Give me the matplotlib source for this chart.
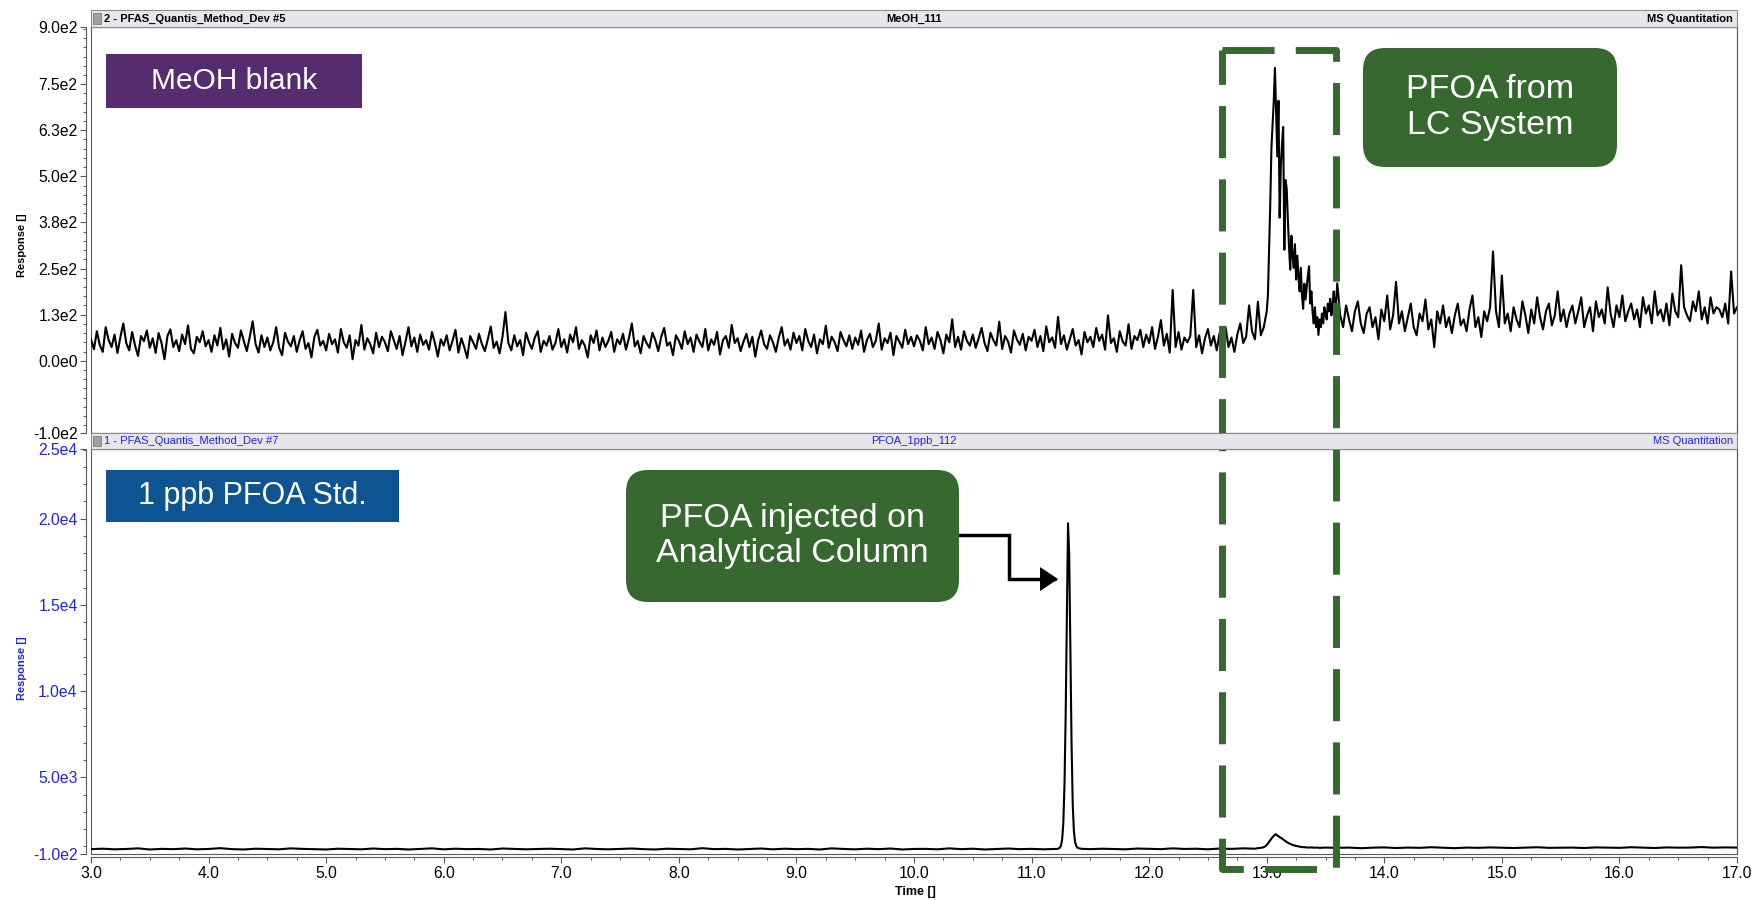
import matplotlib
matplotlib.use("Agg")
import matplotlib.pyplot as plt
import numpy as np
from matplotlib.patches import Rectangle, FancyBboxPatch, FancyArrowPatch
from matplotlib.path import Path
from matplotlib.transforms import blended_transform_factory
from matplotlib.ticker import FixedLocator, MultipleLocator, FormatStrFormatter

plt.rcParams['font.family'] = ['Liberation Sans', 'DejaVu Sans']

# ---------------- data ----------------
# MeOH blank trace (top), three pieces: baseline, LC-system peak, tail
blank_t0, blank_dt = 3.0, 0.025
blank_resp = [
    58, 31, 80, 42, 24, 91, 56, 37, 71, 21, 64, 101, 48, 28, 78, 41, 13, 67, 53, 82,
    35, 61, 21, 75, 48, 4, 67, 85, 37, 56, 26, 71, 45, 96, 32, 20, 65, 50, 80, 39,
    56, 24, 69, 41, 89, 31, 58, 11, 73, 48, 35, 82, 53, 26, 64, 107, 45, 22, 69, 37,
    63, 28, 50, 91, 35, 15, 76, 52, 39, 67, 24, 56, 80, 32, 48, 9, 65, 84, 41, 54,
    28, 73, 45, 58, 22, 86, 50, 35, 69, 4, 56, 41, 97, 30, 61, 45, 20, 76, 37, 65,
    50, 26, 80, 56, 32, 67, 15, 52, 91, 39, 63, 24, 71, 43, 56, 30, 78, 48, 11, 58,
    41, 69, 28, 54, 84, 22, 61, 37, 7, 67, 50, 32, 73, 45, 26, 58, 93, 35, 52, 20,
    65, 132, 48, 28, 69, 39, 56, 15, 76, 50, 32, 63, 80, 24, 54, 41, 67, 30, 48, 86,
    37, 58, 22, 71, 50, 91, 32, 56, 41, 9, 69, 48, 82, 28, 63, 37, 54, 78, 24, 58,
    45, 73, 30, 61, 101, 39, 54, 20, 67, 48, 35, 76, 56, 26, 65, 89, 41, 50, 15, 69,
    54, 32, 80, 45, 63, 24, 71, 52, 37, 86, 28, 58, 43, 78, 17, 56, 67, 35, 97, 48,
    61, 26, 52, 73, 37, 65, 11, 56, 82, 45, 32, 69, 50, 24, 63, 91, 41, 58, 30, 76,
    48, 67, 28, 86, 54, 37, 71, 20, 58, 45, 95, 35, 65, 50, 26, 78, 56, 39, 69, 32,
    63, 43, 82, 24, 56, 73, 37, 54, 101, 30, 61, 48, 76, 15, 67, 52, 35, 84, 45, 65,
    39, 69, 54, 28, 91, 45, 63, 32, 78, 56, 20, 71, 50, 112, 37, 65, 30, 80, 54, 41,
    71, 35, 61, 89, 48, 26, 76, 56, 41, 106, 32, 67, 52, 22, 82, 58, 43, 73, 28, 65,
    54, 84, 37, 67, 26, 93, 50, 63, 35, 119, 45, 69, 30, 58, 86, 41, 56, 17, 78, 50,
    65, 37, 89, 54, 71, 30, 123, 48, 61, 24, 80, 52, 41, 99, 32, 67, 56, 84, 37, 71,
    48, 91, 32, 65, 110, 41, 73, 22, 192, 37, 78, 30, 63, 50, 67, 192, 37, 69, 20, 61,
    86, 41, 67, 28, 76, 56, 91, 37, 63, 24, 71, 101, 48, 65, 150, 80, 58, 160, 69, 91,
]
lcpeak_t0, lcpeak_dt = 13.0, 0.01
lcpeak_resp = [
    134, 176, 296, 423, 576, 640, 705, 794, 673, 554,
    705, 388, 528, 587, 634, 301, 490, 467, 382, 306,
    247, 339, 285, 252, 316, 220, 285, 229, 188, 252,
    177, 141, 209, 166, 199, 231, 256, 155, 188, 131,
    101, 145, 91, 118, 70, 112, 91, 128, 101, 145,
    131, 112, 155, 134, 168, 123, 150, 188, 134, 161,
]
tail_t0, tail_dt = 13.6, 0.025
tail_resp = [
    210, 123, 91, 150, 112, 80, 134, 161, 101, 75, 128, 145, 91, 118, 58, 139, 107, 177, 85, 123,
    214, 101, 134, 80, 118, 155, 91, 69, 128, 107, 166, 85, 112, 37, 134, 101, 150, 91, 118, 75,
    123, 155, 96, 112, 80, 139, 177, 91, 118, 64, 134, 107, 145, 296, 134, 91, 231, 101, 128, 80,
    145, 112, 91, 161, 123, 75, 139, 101, 172, 118, 85, 134, 155, 96, 123, 188, 107, 139, 91, 128,
    150, 101, 134, 172, 91, 123, 145, 80, 161, 118, 139, 101, 199, 128, 91, 150, 118, 177, 107, 134,
    155, 112, 139, 91, 172, 128, 150, 101, 188, 123, 139, 107, 155, 96, 182, 134, 118, 259, 145, 123,
    107, 161, 134, 188, 112, 145, 101, 172, 128, 145, 139, 118, 155, 101, 242, 128, 145,
]

# 1 ppb PFOA standard trace (bottom)
std_base1_t0, std_base1_dt = 3.0, 0.1
std_base1 = [
    835, 860, 825, 845, 880, 815, 850, 835, 870, 825, 845, 890, 835, 815, 860, 845, 825, 880, 850, 835,
    815, 860, 845, 825, 870, 835, 850, 815, 845, 880, 825, 860, 835, 845, 815, 870, 850, 825, 845, 860,
    835, 815, 880, 845, 825, 850, 870, 835, 815, 860, 845, 825, 890, 835, 850, 815, 845, 870, 825, 860,
    835, 850, 815, 880, 845, 825, 860, 835, 870, 815, 845, 850, 825, 880, 835, 860, 815, 845, 870, 835,
    850, 825, 845,
]
std_peak_t0, std_peak_dt = 11.21, 0.01
std_peak = [845, 850, 870, 920, 1040, 1395, 2330, 4575, 8600, 14210, 19730, 17950, 12340,
            7010, 3450, 1860, 1255, 1020, 925, 890, 870, 860, 850, 845, 850]
std_base2_t0, std_base2_dt = 11.5, 0.1
std_base2 = [835, 860, 845, 825, 870, 850, 835, 880, 845, 860, 825, 870, 850, 880, 860]
std_bump_t0, std_bump_dt = 12.925, 0.025
std_bump = [890, 910, 945, 1070, 1300, 1535, 1705, 1580, 1470, 1350, 1225, 1135, 1070, 1020,
            985, 955, 945, 925, 935, 920, 925, 910, 920, 925]
std_base3_t0, std_base3_dt = 13.6, 0.1
std_base3 = [910, 925, 890, 920, 935, 900, 925, 910, 945, 920, 890, 925, 910, 935, 920, 900, 925, 945, 910, 920,
             925, 900, 935, 920, 910, 945, 925, 900, 935, 920, 925, 955, 920, 935, 925]

# axis ends and ticks as the instrument software draws them
top_lim = (-196, 905)
top_ticks = [-196, 0, 125, 250, 375, 500, 625, 750, 905]
top_labels = ['-1.0e2', '0.0e0', '1.3e2', '2.5e2', '3.8e2', '5.0e2', '6.3e2', '7.5e2', '9.0e2']
bot_lim = (553, 24036)
bot_ticks = [553, 5000, 10000, 15000, 20000, 24036]
bot_labels = ['-1.0e2', '5.0e3', '1.0e4', '1.5e4', '2.0e4', '2.5e4']

lc_window = (12.62, 13.59)       # time window of the dashed box
arrow_elbow_t = 10.81
arrow_levels = (19030, 16495)    # arrow start level, arrow tip level
arrow_tip_t = 11.225


def sampled(t0, dt, vals):
    vals = np.asarray(vals, dtype=float)
    return t0 + dt * np.arange(len(vals)), vals


pieces = [sampled(blank_t0, blank_dt, blank_resp),
          sampled(lcpeak_t0, lcpeak_dt, lcpeak_resp),
          sampled(tail_t0, tail_dt, tail_resp)]
t_top = np.concatenate([p[0] for p in pieces])
y_top = np.concatenate([p[1] for p in pieces])

pieces = [sampled(std_base1_t0, std_base1_dt, std_base1),
          sampled(std_peak_t0, std_peak_dt, std_peak),
          sampled(std_base2_t0, std_base2_dt, std_base2),
          sampled(std_bump_t0, std_bump_dt, std_bump),
          sampled(std_base3_t0, std_base3_dt, std_base3)]
t_bot = np.concatenate([p[0] for p in pieces])
y_bot = np.concatenate([p[1] for p in pieces])

# ---------------- figure ----------------
W, H = 1756, 900
fig = plt.figure(figsize=(W / 100, H / 100), dpi=100)


def fx(px):
    return px / W


def fy(py):
    return 1 - py / H


L, R = 91, 1737
frame_col = '#5a5a5a'
blue = '#2424d6'
green = '#36682f'

ax1 = fig.add_axes([fx(L), fy(433), fx(R - L), (433 - 27) / H])
ax2 = fig.add_axes([fx(L), fy(854), fx(R - L), (854 - 449) / H])

for ax in (ax1, ax2):
    ax.set_xlim(3.0, 17.0)
    for s in ax.spines.values():
        s.set_color(frame_col)
        s.set_linewidth(0.8)
    ax.spines['left'].set_position(('outward', 3.6))
    ax.add_patch(Rectangle((0, 0), 1, 1, transform=ax.transAxes, fill=False,
                           ec=frame_col, lw=0.8, clip_on=False))
    ax.tick_params(which='major', direction='out', length=4, width=0.8,
                   color=frame_col, labelsize=11.3, pad=2)
    ax.tick_params(which='minor', direction='out', length=2.5, width=0.7, color=frame_col)
    ax.xaxis.set_major_locator(MultipleLocator(1.0))
    ax.xaxis.set_minor_locator(MultipleLocator(0.25))

ax1.set_ylim(*top_lim)
ax1.yaxis.set_major_locator(FixedLocator(top_ticks))
ax1.set_yticklabels(top_labels)
ax1.yaxis.set_minor_locator(MultipleLocator(25))
ax1.tick_params(axis='x', which='both', bottom=False, labelbottom=False)
ax1.plot(t_top, y_top, color='black', lw=1.5)
ax1.set_ylabel('Response []', fontsize=8, fontweight='bold')
ax1.yaxis.set_label_coords(-0.039, 0.463)

ax2.spines['bottom'].set_position(('outward', 2.5))
ax2.set_ylim(*bot_lim)
ax2.yaxis.set_major_locator(FixedLocator(bot_ticks))
ax2.set_yticklabels(bot_labels)
ax2.yaxis.set_minor_locator(MultipleLocator(1000))
ax2.tick_params(axis='y', labelcolor=blue)
ax2.xaxis.set_major_formatter(FormatStrFormatter('%.1f'))
ax2.plot(t_bot, y_bot, color='black', lw=1.5)
ax2.set_ylabel('Response []', fontsize=8, fontweight='bold', color=blue)
ax2.yaxis.set_label_coords(-0.039, 0.459)
fig.text(fx(915), fy(892), 'Time []', fontsize=9, fontweight='bold', ha='center', va='center')

# header bars
for ytop, hgt, left_txt, mid_txt, col, wt in [
        (10, 17, '2 - PFAS_Quantis_Method_Dev #5', 'MeOH_111', 'black', 'bold'),
        (433, 16, '1 - PFAS_Quantis_Method_Dev #7', 'PFOA_1ppb_112', blue, 'normal')]:
    fig.add_artist(Rectangle((fx(L), fy(ytop + hgt)), fx(R - L), hgt / H, transform=fig.transFigure,
                             fc='#e6e6ec', ec='#8c8c8c', lw=0.8))
    fig.add_artist(Rectangle((fx(L + 2), fy(ytop + hgt - 3)), fx(8), (hgt - 6) / H,
                             transform=fig.transFigure, fc='#a0a0a0', ec='#707070', lw=0.5))
    yc = fy(ytop + hgt / 2)
    fig.text(fx(104), yc, left_txt, fontsize=8, fontweight=wt, color=col, va='center')
    fig.text(fx((L + R) / 2), yc, mid_txt, fontsize=8, fontweight=wt, color=col,
             va='center', ha='center')
    fig.text(fx(R - 4), yc, 'MS Quantitation', fontsize=8, fontweight=wt, color=col,
             va='center', ha='right')

# dashed highlight window, drawn clockwise from the top-left corner
bt = blended_transform_factory(ax2.transData, fig.transFigure)
x0, x1 = lc_window
ytop_f, ybot_f = fy(50), fy(869)
ax2.plot([x0, x1, x1, x0, x0], [ytop_f, ytop_f, ybot_f, ybot_f, ytop_f], transform=bt,
         color=green, lw=5, dashes=(7.5, 3.05), dash_joinstyle='round',
         dash_capstyle='butt', clip_on=False, zorder=6)

# arrow from annotation box to the analytical peak
box_edge_t = 3 + (959 - L) / ((R - L) / 14)
verts = [(box_edge_t, arrow_levels[0]), (arrow_elbow_t, arrow_levels[0]),
         (arrow_elbow_t, arrow_levels[1]), (arrow_tip_t, arrow_levels[1])]
arr = FancyArrowPatch(path=Path(verts, [Path.MOVETO, Path.LINETO, Path.LINETO, Path.LINETO]),
                      arrowstyle='-|>,head_length=0.45,head_width=0.3', mutation_scale=21,
                      lw=2.5, color='black', transform=ax2.transData, clip_on=False,
                      joinstyle='miter')
ax2.add_patch(arr)

# annotation boxes (pixel layout)
ov = fig.add_axes([0, 0, 1, 1], zorder=10)
ov.set_xlim(0, W)
ov.set_ylim(H, 0)
ov.axis('off')


def label_box(x0, y0, x1, y1, color, text, fs, rounded):
    style = 'round,pad=0,rounding_size=22' if rounded else 'square,pad=0'
    ov.add_patch(FancyBboxPatch((x0, y0), x1 - x0, y1 - y0, boxstyle=style, fc=color, ec='none'))
    ov.text((x0 + x1) / 2, (y0 + y1) / 2, text, color='white', fontsize=fs,
            ha='center', va='center', linespacing=1.2)


label_box(106, 54, 362, 108, '#552c6e', 'MeOH blank', 21.5, False)
label_box(106, 470, 399, 522, '#0e5392', '1 ppb PFOA Std.', 22, False)
label_box(1363, 48, 1617, 167, green, 'PFOA from\nLC System', 24.5, True)
label_box(626, 470, 959, 602, green, 'PFOA injected on\nAnalytical Column', 24.5, True)

fig.savefig('out.png', dpi=100)
